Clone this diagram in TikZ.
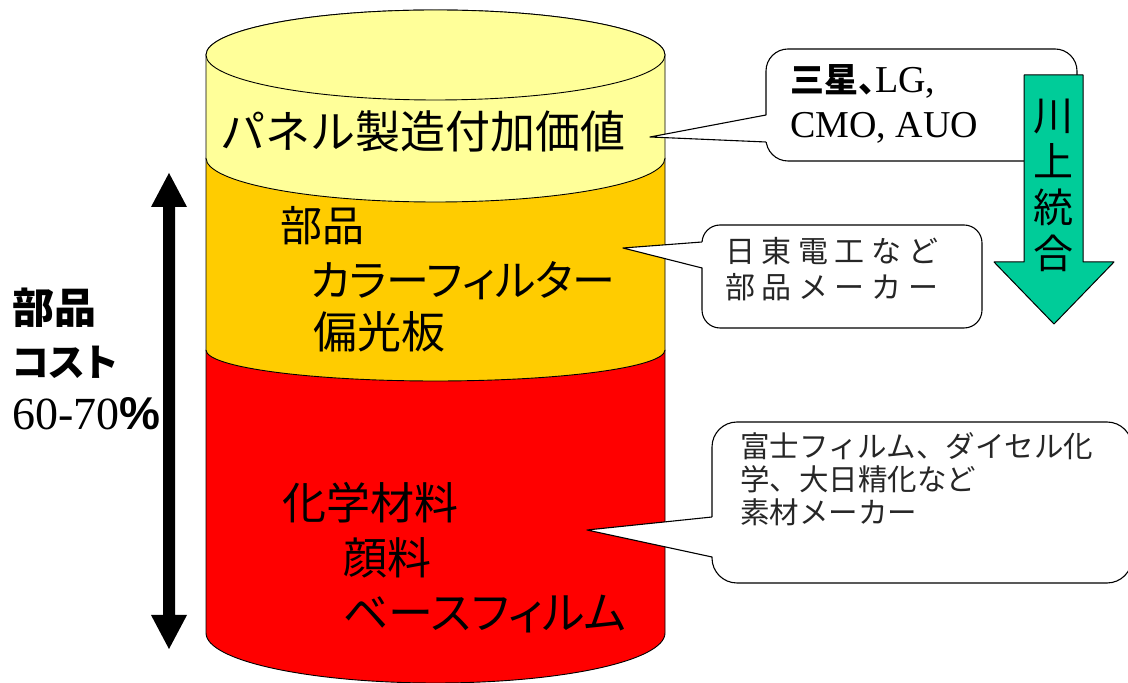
\documentclass[tikz,border=0pt]{standalone}
\usepackage{fontspec}
\setmainfont{Liberation Serif}
\newfontfamily\jp[RawFeature=+palt]{Noto Sans CJK JP}
\newfontfamily\jpm{Noto Sans CJK JP}
\newfontfamily\jpw[LetterSpace=22]{Noto Sans CJK JP}
\newfontfamily\hsans{Liberation Sans}
\definecolor{cylY}{HTML}{FFFF99}
\definecolor{cylO}{HTML}{FFCC00}
\definecolor{cylR}{HTML}{FF0000}
\definecolor{arrG}{HTML}{00CC99}
\tikzset{
  cyl/.style={draw=black, line width=0.9pt},
  cbody/.style={draw=black, fill=white, line width=1.1pt, rounded corners=22pt, inner sep=0pt},
  ptr/.style={draw=black, line width=1.1pt},
  txt/.style={anchor=base west, inner sep=0pt},
}
\begin{document}
\begin{tikzpicture}[x=1pt,y=1pt,line join=round]
\useasboundingbox (0,0) rectangle (1128,683);
% ---- cylinder (red, orange, yellow) ----
\path[cyl, fill=cylR] (206,333) -- (206,50) arc[start angle=180,end angle=360,x radius=229.5,y radius=50] -- (665,333) -- cycle;
\path[cyl, fill=cylO] (206,525) -- (206,333) arc[start angle=180,end angle=360,x radius=229.5,y radius=31] -- (665,525) -- cycle;
\path[cyl, fill=cylY] (206,628) -- (206,525) arc[start angle=180,end angle=360,x radius=229.5,y radius=44] -- (665,628) arc[start angle=0,end angle=180,x radius=229.5,y radius=45] -- cycle;
\path[cyl, fill=cylY] (435.5,628) ellipse[x radius=229.5,y radius=45];
% ---- cylinder texts ----
\node[txt, font=\jpm\fontsize{45}{45}\selectfont] (panel) at (220,534) {パネル製造付加価値};
\node[txt, font=\jp\fontsize{42}{42}\selectfont] (buhin) at (280,441) {部品};
\node[txt, font=\jp\fontsize{43}{43}\selectfont] (cf) at (310,386) {カラーフィルター};
\node[txt, font=\jp\fontsize{44}{44}\selectfont] (hen) at (313,334) {偏光板};
\node[txt, font=\jp\fontsize{44}{44}\selectfont] (kagaku) at (282,163) {化学材料};
\node[txt, font=\jp\fontsize{44}{44}\selectfont] (ganryo) at (343,108) {顔料};
\node[txt, font=\jp\fontsize{45}{45}\selectfont] (base) at (343,53) {ベースフィルム};
% ---- left double arrow and label ----
\fill[black] (169,510) -- (187,476) -- (175,476) -- (175,68) -- (187,68) -- (169,34) -- (151,68) -- (163,68) -- (163,476) -- (151,476) -- cycle;
\node[txt, font=\jp\bfseries\fontsize{42}{42}\selectfont] (lb1) at (12,359) {部品};
\node[txt, font=\jp\bfseries\fontsize{38}{38}\selectfont] (lb2) at (12,306) {コスト};
\node[txt, font=\fontsize{46}{46}\selectfont] (lb3) at (12,253) {60-70{\hsans\bfseries\%}};
% ---- callout 1 ----
\node[cbody, minimum width=311, minimum height=112] (c1) at (921.5,578) {};
\coordinate (t1) at (650,546);
\fill[white] (t1) -- (768,568) -- (768,541) -- cycle;
\draw[ptr] (766,568) -- (t1) -- (766,541);
\node[txt, font=\fontsize{38}{38}\selectfont] (c1a) at (790,590) {{\jp\bfseries\fontsize{34}{34}\selectfont 三星、}LG,};
\node[txt, font=\fontsize{38}{38}\selectfont] (c1b) at (790,545) {CMO, AUO};
% ---- callout 2 ----
\node[cbody, rounded corners=18pt, minimum width=280, minimum height=103] (c2) at (842,406.5) {};
\coordinate (t2) at (623,435);
\fill[white] (t2) -- (704,441) -- (704,415) -- cycle;
\draw[ptr] (702,441) -- (t2) -- (702,415);
\node[txt, font=\jpw\fontsize{30}{30}\selectfont, text=black!85] (c2a) at (725,420) {日東電工など};
\node[txt, font=\jpw\fontsize{30}{30}\selectfont, text=black!85] (c2b) at (725,384) {部品メーカー};
% ---- callout 3 ----
\node[cbody, rounded corners=25pt, minimum width=420, minimum height=161] (c3) at (922,180.5) {};
\coordinate (t3) at (587,153);
\fill[white] (t3) -- (714,166) -- (714,126) -- cycle;
\draw[ptr] (712,166) -- (t3) -- (712,126);
\node[txt, font=\jpm\fontsize{29.5}{29.5}\selectfont, text=black!85] (c3a) at (740,225) {富士フィルム、ダイセル化};
\node[txt, font=\jpm\fontsize{29.5}{29.5}\selectfont, text=black!85] (c3b) at (740,192) {学、大日精化など};
\node[txt, font=\jpm\fontsize{29.5}{29.5}\selectfont, text=black!85] (c3c) at (740,159) {素材メーカー};
% ---- green arrow ----
\draw[fill=arrG, line width=1pt] (1024,608) -- (1083,608) -- (1083,421) -- (1114,421) -- (1054,359) -- (994,421) -- (1024,421) -- cycle;
\node[font=\jp\fontsize{40}{46}\selectfont, align=center, inner sep=0pt] (kawa) at (1053,498) {川\\上\\統\\合};
\end{tikzpicture}
\end{document}
